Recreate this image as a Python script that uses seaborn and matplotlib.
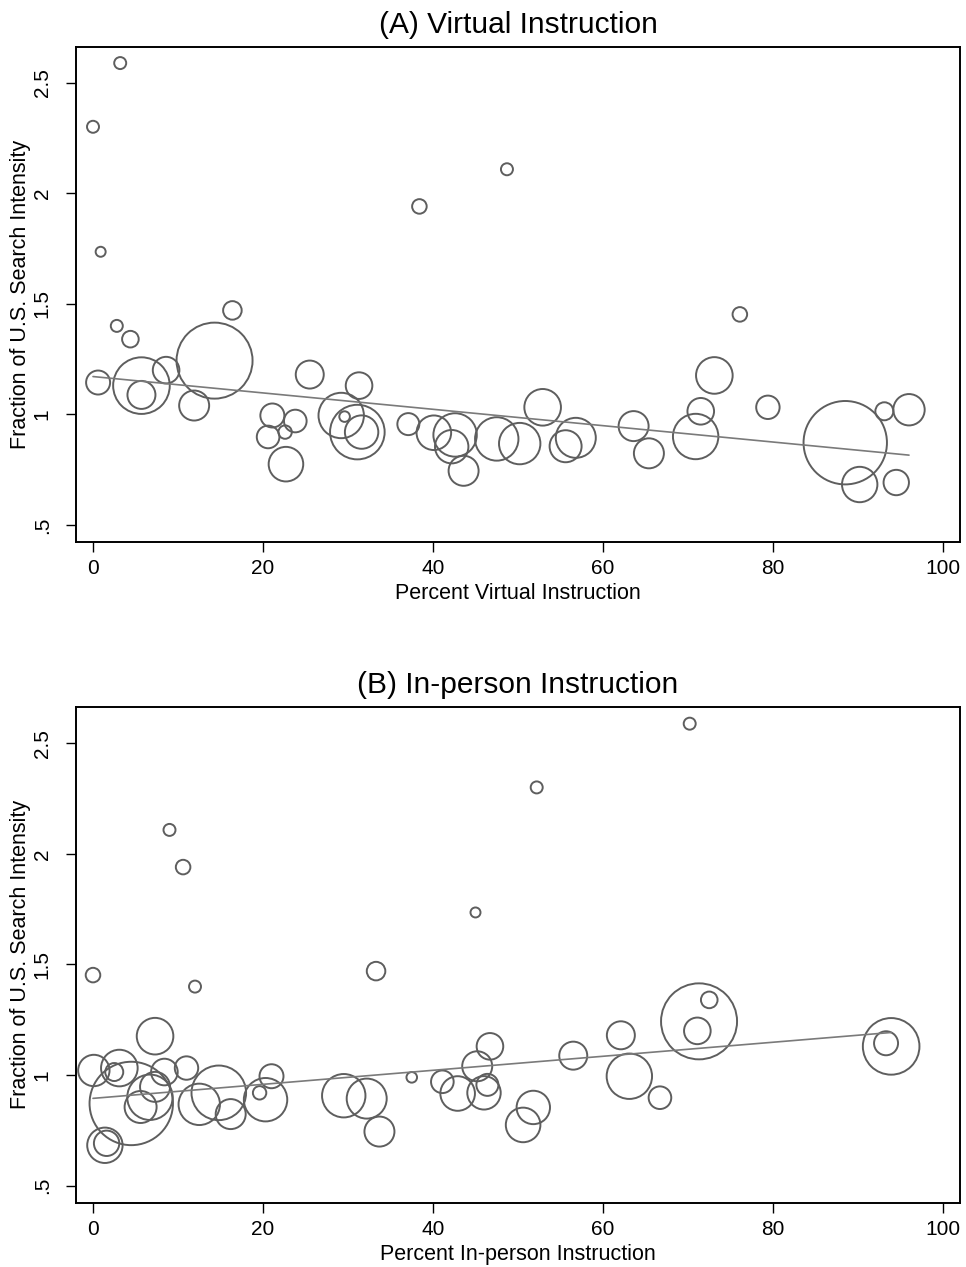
import numpy as np
import pandas as pd
import matplotlib
matplotlib.use("Agg")
import matplotlib.pyplot as plt
import seaborn as sns

# State-level observations: share of instruction mode vs. relative search intensity
pct_virtual = [3.2, 0.0, 0.9, 38.4, 16.4, 2.8, 4.4, 0.6, 5.7, 5.7,
               8.6, 14.3, 11.9, 25.5, 21.1, 23.8, 22.6, 20.6, 22.7, 29.2,
               29.6, 31.3, 31.1, 31.6, 37.1, 40.1, 42.6, 42.2, 43.6, 47.5,
               48.7, 50.2, 52.9, 55.6, 56.8, 63.6, 65.4, 70.9, 71.5, 73.1,
               76.1, 79.4, 88.5, 90.2, 93.1, 96.0, 94.5]
pct_inperson = [70.2, 52.2, 45.0, 10.6, 33.3, 12.0, 72.5, 93.3, 93.9, 56.5,
                71.1, 71.3, 45.2, 62.1, 21.0, 41.1, 19.6, 66.7, 50.6, 63.1,
                37.5, 46.7, 14.8, 46.0, 46.4, 42.9, 29.5, 51.8, 33.7, 20.3,
                9.0, 12.5, 3.1, 5.6, 32.2, 7.3, 16.2, 6.7, 8.4, 7.3,
                0.0, 11.0, 4.5, 1.4, 2.5, 0.1, 1.6]
search_share = [2.588, 2.300, 1.735, 1.940, 1.470, 1.400, 1.340, 1.144, 1.130, 1.088,
                1.200, 1.243, 1.040, 1.180, 0.995, 0.970, 0.920, 0.898, 0.775, 0.995,
                0.990, 1.130, 0.920, 0.920, 0.956, 0.917, 0.907, 0.854, 0.745, 0.889,
                2.108, 0.868, 1.032, 0.856, 0.894, 0.947, 0.824, 0.900, 1.014, 1.176,
                1.452, 1.032, 0.872, 0.683, 1.014, 1.021, 0.692]
# analytic weights (relative enrollment) that set the marker areas
weight = [36, 36, 25, 53, 86, 36, 69, 144, 801, 196,
          177, 1444, 225, 196, 144, 128, 45, 128, 299, 515,
          28, 177, 745, 279, 121, 299, 471, 279, 225, 471,
          36, 428, 335, 256, 400, 225, 225, 515, 177, 335,
          53, 137, 1739, 313, 81, 246, 161]

# weighted linear fits (intercept, slope)
fit_virtual = (1.171, -0.00370)
fit_inperson = (0.895, 0.00317)

x_ticks = [0, 20, 40, 60, 80, 100]
y_ticks = [0.5, 1.0, 1.5, 2.0, 2.5]
y_tick_labels = [".5", "1", "1.5", "2", "2.5"]

df = pd.DataFrame({"virtual": pct_virtual, "inperson": pct_inperson,
                   "search": search_share, "weight": weight})

sns.set_theme(style="white")
plt.rcParams["font.family"] = ["Liberation Sans", "DejaVu Sans"]

DPI = 100
W, H = 966, 1267
fig = plt.figure(figsize=(W / DPI, H / DPI), dpi=DPI)

# px -> pt^2 for marker area: radius r px -> diameter 2r px
area_per_weight = (2 * 72 / DPI) ** 2
wmax = max(weight)

edge = "#5e5e5e"
line_col = "#7a7a7a"


def panel(rect, xcol, fit, title, xlabel):
    l, t, r, b = rect
    ax = fig.add_axes([l / W, 1 - b / H, (r - l) / W, (b - t) / H])
    sns.scatterplot(data=df, x=xcol, y="search", size="weight",
                    sizes=(0, area_per_weight * wmax), size_norm=(0, wmax),
                    facecolor="none", edgecolor=edge, linewidth=1.4,
                    legend=False, ax=ax, zorder=2)
    xs = np.array([df[xcol].min(), df[xcol].max()])
    sns.lineplot(x=xs, y=fit[0] + fit[1] * xs, color=line_col, linewidth=1.2,
                 ax=ax, zorder=3)
    ax.set_xlim(-2, 102)
    ax.set_ylim(0.4245, 2.662)
    ax.set_xticks(x_ticks)
    ax.set_yticks(y_ticks)
    ax.set_yticklabels(y_tick_labels)
    for lab in ax.get_yticklabels():
        lab.set_rotation(90)
        lab.set_va("center")
    ax.tick_params(axis="both", which="major", direction="out", length=7.5,
                   width=1.0, color="black", labelsize=15,
                   left=True, bottom=True, labelcolor="black")
    ax.tick_params(axis="x", pad=5)
    ax.tick_params(axis="y", pad=10)
    for s in ax.spines.values():
        s.set_color("black")
        s.set_linewidth(1.4)
    ax.set_xlabel(xlabel, fontsize=15.5, color="black", labelpad=3.5)
    ax.set_ylabel("Fraction of U.S. Search Intensity", fontsize=15.5,
                  color="black")
    ax.yaxis.set_label_coords((31.5 - l) / (r - l), 0.5)
    ax.set_title(title, fontsize=21.5, color="black", pad=10)
    return ax


panel((76, 46.7, 960, 541.7), "virtual", fit_virtual,
      "(A) Virtual Instruction", "Percent Virtual Instruction")
panel((76, 707.3, 960, 1202.5), "inperson", fit_inperson,
      "(B) In-person Instruction", "Percent In-person Instruction")

fig.savefig("out.png", dpi=DPI, facecolor="white")
